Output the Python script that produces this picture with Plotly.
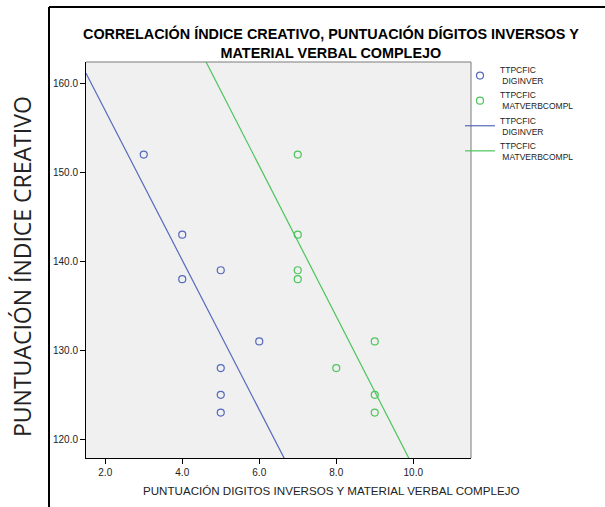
import numpy as np
import plotly.graph_objects as go

# Scores: digit span backwards (DIGINVER) and complex verbal material (MATVERBCOMPL)
creative_index = [152, 143, 138, 139, 128, 125, 123, 131]
digits_inverse = [3, 4, 4, 5, 5, 5, 5, 6]
creative_index_verbal = [152, 143, 139, 138, 128, 131, 125, 123]
verbal_complex = [7, 7, 7, 7, 8, 9, 9, 9]

series_names = ["TTPCFIC<br>\u00a0DIGINVER", "TTPCFIC<br>\u00a0MATVERBCOMPL"]
x_ticks = [2, 4, 6, 8, 10]
y_ticks = [120, 130, 140, 150, 160]

x_range = [1.5, 11.5]
y_range = [117.9, 162.4]

BLUE = "#5468bc"
GREEN = "#4cc45c"
FONT = "Liberation Sans, Arial, sans-serif"

fig = go.Figure()

datasets = [(digits_inverse, creative_index, BLUE, series_names[0]),
            (verbal_complex, creative_index_verbal, GREEN, series_names[1])]

for xs, ys, color, name in datasets:
    fig.add_trace(go.Scatter(
        x=xs, y=ys, mode="markers", name=name,
        marker=dict(symbol="circle-open", size=7, color=color, line=dict(width=1.2, color=color)),
    ))

# least-squares fit lines for each group
for xs, ys, color, name in datasets:
    slope, intercept = np.polyfit(xs, ys, 1)
    lx = np.array(x_range)
    fig.add_trace(go.Scatter(
        x=lx, y=slope * lx + intercept, mode="lines", name=name,
        line=dict(color=color, width=1.2),
    ))

L, R, T, B = 86, 134, 62, 49
W, H = 605, 507
pw, ph = W - L - R, H - T - B


def px_to_paper_x(px):
    return (px - L) / pw


def px_to_paper_y(py):
    return (H - B - py) / ph


axis_common = dict(
    showgrid=False, zeroline=False, showline=True, linecolor="black", linewidth=1,
    ticks="outside", ticklen=5, tickcolor="black", tickwidth=1,
    tickfont=dict(family=FONT, size=10, color="#222222"), tickformat=".1f",
)

fig.update_layout(
    width=W, height=H,
    margin=dict(l=L, r=R, t=T, b=B),
    paper_bgcolor="white", plot_bgcolor="#f0f0f0",
    font=dict(family=FONT, color="#222222"),
    xaxis=dict(range=x_range, tickvals=x_ticks, **axis_common),
    yaxis=dict(range=y_range, tickvals=y_ticks, **axis_common),
    showlegend=True,
    legend=dict(x=px_to_paper_x(460), y=px_to_paper_y(58), xanchor="left", yanchor="top", xref="paper",
                font=dict(family=FONT, size=8.5, color="#222222"),
                bgcolor="rgba(0,0,0,0)", tracegroupgap=0, itemwidth=30),
    shapes=[
        # gray top/right borders of the plotting region
        dict(type="line", xref="paper", yref="paper", x0=0, x1=1, y0=1, y1=1,
             line=dict(color="#7a7a7a", width=1)),
        dict(type="line", xref="paper", yref="paper", x0=1, x1=1, y0=0, y1=1,
             line=dict(color="#7a7a7a", width=1)),
        # outer frame
        dict(type="line", xref="paper", yref="paper",
             x0=px_to_paper_x(49), x1=px_to_paper_x(W + 5),
             y0=px_to_paper_y(7), y1=px_to_paper_y(7),
             line=dict(color="black", width=2)),
        dict(type="line", xref="paper", yref="paper",
             x0=px_to_paper_x(49), x1=px_to_paper_x(49),
             y0=px_to_paper_y(7), y1=px_to_paper_y(H + 5),
             line=dict(color="black", width=2)),
    ],
    annotations=[
        dict(text="<b>CORRELACIÓN ÍNDICE CREATIVO, PUNTUACIÓN DÍGITOS INVERSOS Y<br>MATERIAL VERBAL COMPLEJO</b>",
             xref="paper", yref="paper", x=px_to_paper_x(331), y=px_to_paper_y(43),
             xanchor="center", yanchor="middle", showarrow=False,
             font=dict(family=FONT, size=14.4, color="black")),
        dict(text="PUNTUACIÓN DIGITOS INVERSOS Y MATERIAL VERBAL COMPLEJO",
             xref="paper", yref="paper", x=px_to_paper_x(331), y=px_to_paper_y(490),
             xanchor="center", yanchor="middle", showarrow=False,
             font=dict(family=FONT, size=11.6, color="#222222")),
        dict(text="PUNTUACIÓN ÍNDICE CREATIVO", textangle=-90,
             xref="paper", yref="paper", x=px_to_paper_x(22), y=px_to_paper_y(267),
             xanchor="center", yanchor="middle", showarrow=False,
             font=dict(family="Open Sans, " + FONT, size=23, color="#222222")),
    ],
)

fig.write_html("out.html")
